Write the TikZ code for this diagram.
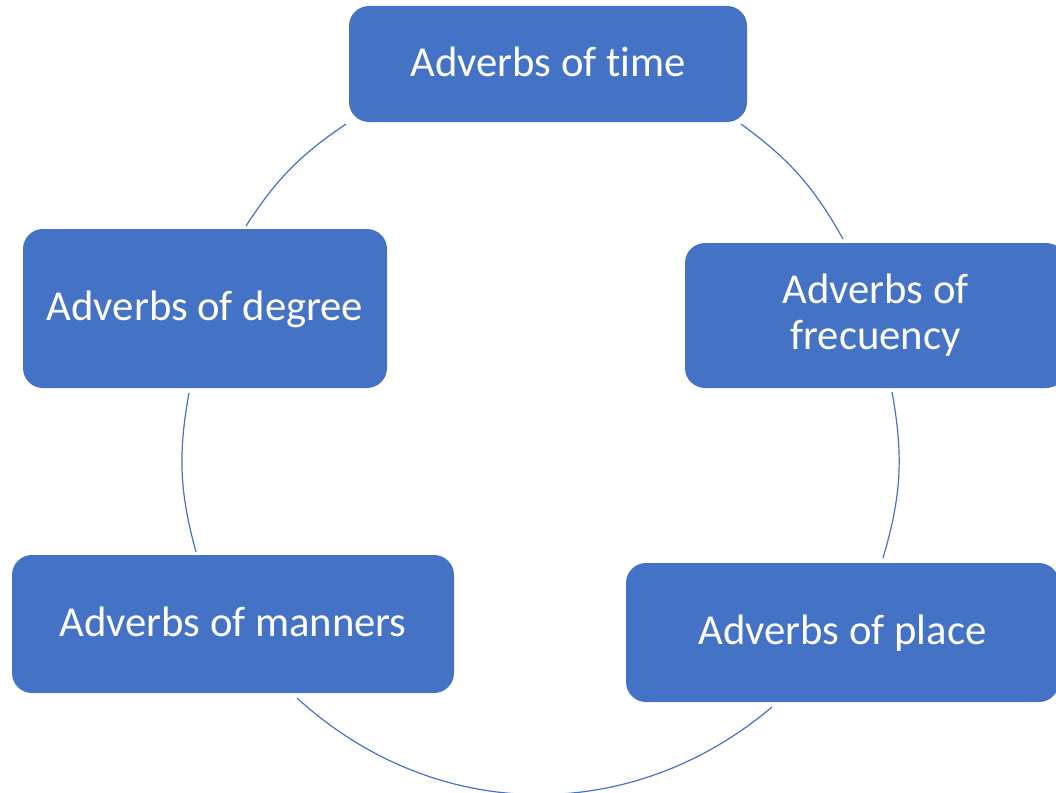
\documentclass[tikz,border=0pt]{standalone}
\usepackage{fontspec}
\setmainfont{Carlito}[Ligatures=NoCommon]
\usepackage{tikz}
\usetikzlibrary{calc, positioning}
\definecolor{ringBlue}{RGB}{68, 114, 196}

\begin{document}
\begin{tikzpicture}[x=0.75pt, y=-0.75pt,
  block/.style={rectangle, rounded corners=15pt, fill=ringBlue, text=white,
    font=\fontsize{32}{34.5}\selectfont, align=center, inner sep=0pt},
  oneline/.style={text height=22pt, text depth=4pt},
  ringarc/.style={ringBlue, line width=0.9pt}]
  \useasboundingbox (0,0) rectangle (1056,792);
  \clip (0,0) rectangle (1056,792);

  % the five kinds
  \node[block, oneline, minimum width=298.5pt, minimum height=87pt] (time) at (548,64) {Adverbs of time};
  \node[block, oneline, minimum width=273pt, minimum height=119.25pt] (degree) at (205,308.5) {Adverbs of degree};
  \node[block, minimum width=285.75pt, minimum height=108.75pt] (freq) at (875.5,315.5) {Adverbs of\\frecuency};
  \node[block, oneline, minimum width=331.5pt, minimum height=103.5pt] (manners) at (233,624) {Adverbs of manners};
  \node[block, oneline, minimum width=324.75pt, minimum height=104.25pt] (place) at (842.5,632.5) {Adverbs of place};

  % ends of the ring pieces
  \coordinate (timeDeg) at (346,124);
  \coordinate (degTime) at (246,226);
  \coordinate (degMan) at (189,393);
  \coordinate (manDeg) at (196,552);
  \coordinate (manPlace) at (297,698);
  \coordinate (placeMan) at (772,707);
  \coordinate (placeFreq) at (883,558);
  \coordinate (freqPlace) at (892,392);
  \coordinate (freqTime) at (843,239);
  \coordinate (timeFreq) at (741,124);

  \draw[ringarc] (timeDeg) to[bend right=11.5] (degTime);
  \draw[ringarc] (degMan) to[bend right=12.8] (manDeg);
  \draw[ringarc] (manPlace) to[bend right=41.3] (placeMan);
  \draw[ringarc] (placeFreq) to[bend right=13.4] (freqPlace);
  \draw[ringarc] (freqTime) to[bend right=12.3] (timeFreq);
\end{tikzpicture}
\end{document}
